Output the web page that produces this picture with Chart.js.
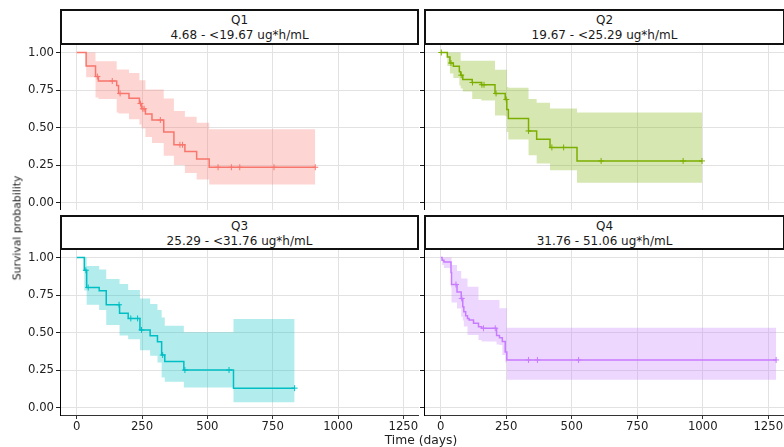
<!DOCTYPE html>
<html>
<head>
<meta charset="utf-8">
<script src="https://cdn.jsdelivr.net/npm/chart.js@4.4.1/dist/chart.umd.min.js"></script>
<style>
  body { margin: 0; background: #fff; }
  #fig { position: relative; width: 784px; height: 447px; overflow: hidden; font-family: 'DejaVu Sans', sans-serif; }
  .panel { position: absolute; }
  .strip {
    position: absolute; box-sizing: border-box; border: 2px solid #111; background: #fff;
    text-align: center; font-size: 12px; line-height: 15px; color: #1a1a1a; padding-top: 2px; white-space: nowrap;
  }
  .ytitle {
    position: absolute; left: 17px; top: 228px; transform: translate(-50%, -50%) rotate(-90deg);
    font-size: 10.8px; color: #222; white-space: nowrap;
  }
  .xtitle {
    position: absolute; left: 421px; top: 440px; transform: translate(-50%, -50%);
    font-size: 12.3px; color: #222; white-space: nowrap;
  }
</style>
</head>
<body>
<div id="fig">
  <div class="panel" style="left:0;top:45px"><canvas id="q1" width="419" height="165"></canvas></div>
  <div class="panel" style="left:418px;top:45px"><canvas id="q2" width="366" height="165"></canvas></div>
  <div class="panel" style="left:0;top:250px"><canvas id="q3" width="419" height="197"></canvas></div>
  <div class="panel" style="left:418px;top:250px"><canvas id="q4" width="366" height="197"></canvas></div>

  <div class="strip" style="left:60px;top:9px;width:359px;height:36px">Q1<br>4.68 - &lt;19.67 ug*h/mL</div>
  <div class="strip" style="left:424px;top:9px;width:361px;height:36px">Q2<br>19.67 - &lt;25.29 ug*h/mL</div>
  <div class="strip" style="left:60px;top:215px;width:359px;height:35px">Q3<br>25.29 - &lt;31.76 ug*h/mL</div>
  <div class="strip" style="left:424px;top:215px;width:361px;height:35px">Q4<br>31.76 - 51.06 ug*h/mL</div>

  <div class="ytitle">Survival probability</div>
  <div class="xtitle">Time (days)</div>
</div>

<script>
// axis ticks
const xTicks = [0, 250, 500, 750, 1000, 1250];
const yTicks = [0, 0.25, 0.5, 0.75, 1];
const yTickLabels = ['0.00', '0.25', '0.50', '0.75', '1.00'];

// Q1 - Kaplan-Meier steps with 95% band, censored times
const q1Time  = [0, 36, 72, 83, 153, 160, 200, 240, 248, 263, 288, 333, 372, 414, 459, 507, 913];
const q1Surv  = [1, 0.91, 0.84, 0.81, 0.78, 0.727, 0.695, 0.66, 0.625, 0.59, 0.55, 0.47, 0.385, 0.34, 0.29, 0.235, 0.235];
const q1Upper = [1, 1, 0.942, 0.942, 0.887, 0.887, 0.864, 0.815, 0.815, 0.753, 0.753, 0.693, 0.61, 0.571, 0.531, 0.489, 0.489];
const q1Lower = [1, 0.835, 0.70, 0.69, 0.60, 0.593, 0.555, 0.52, 0.493, 0.437, 0.397, 0.311, 0.25, 0.197, 0.153, 0.12, 0.12];
const q1CensTime = [79, 136, 166, 244, 253, 258, 320, 395, 405, 541, 592, 624, 755, 913];
const q1CensSurv = [0.84, 0.81, 0.727, 0.66, 0.625, 0.625, 0.55, 0.385, 0.385, 0.235, 0.235, 0.235, 0.235, 0.235];

// Q2
const q2Time  = [0, 25, 35, 48, 71, 76, 84, 120, 155, 207, 246, 252, 258, 335, 366, 417, 520, 997];
const q2Surv  = [1, 0.97, 0.93, 0.909, 0.871, 0.849, 0.82, 0.80, 0.785, 0.727, 0.687, 0.62, 0.56, 0.477, 0.422, 0.367, 0.277, 0.277];
const q2Upper = [1, 1, 1, 1, 1, 0.945, 0.945, 0.945, 0.945, 0.885, 0.885, 0.77, 0.765, 0.69, 0.665, 0.627, 0.60, 0.60];
const q2Lower = [1, 0.91, 0.86, 0.83, 0.78, 0.76, 0.74, 0.69, 0.68, 0.58, 0.575, 0.47, 0.42, 0.315, 0.26, 0.215, 0.131, 0.131];
const q2CensTime = [2, 39, 78, 121, 157, 165, 211, 250, 335, 424, 469, 612, 925, 997];
const q2CensSurv = [1, 0.93, 0.849, 0.80, 0.785, 0.785, 0.727, 0.687, 0.477, 0.367, 0.367, 0.277, 0.277, 0.277];

// Q3
const q3Time  = [0, 29, 38, 86, 113, 164, 197, 242, 281, 309, 325, 337, 410, 600, 834];
const q3Surv  = [1, 0.915, 0.80, 0.778, 0.685, 0.628, 0.594, 0.517, 0.479, 0.439, 0.35, 0.306, 0.25, 0.129, 0.129];
const q3Upper = [1, 1, 0.944, 0.92, 0.856, 0.823, 0.783, 0.727, 0.69, 0.65, 0.60, 0.545, 0.501, 0.59, 0.59];
const q3Lower = [1, 0.78, 0.685, 0.65, 0.55, 0.48, 0.455, 0.382, 0.345, 0.30, 0.20, 0.171, 0.133, 0.035, 0.035];
const q3CensTime = [35, 44, 162, 207, 233, 248, 329, 414, 583, 834];
const q3CensSurv = [0.915, 0.80, 0.685, 0.594, 0.594, 0.517, 0.35, 0.25, 0.25, 0.129];

// Q4
const q4Time  = [0, 5, 12, 39, 41, 62, 78, 84, 88, 95, 102, 108, 125, 144, 156, 213, 224, 235, 246, 252, 1280];
const q4Surv  = [1, 0.982, 0.97, 0.90, 0.82, 0.77, 0.727, 0.672, 0.638, 0.612, 0.594, 0.583, 0.561, 0.539, 0.528, 0.48, 0.465, 0.44, 0.37, 0.317, 0.317];
const q4Upper = [1, 1, 1, 1, 0.95, 0.91, 0.86, 0.86, 0.86, 0.86, 0.805, 0.805, 0.805, 0.716, 0.716, 0.716, 0.661, 0.661, 0.661, 0.532, 0.532];
const q4Lower = [1, 0.95, 0.93, 0.80, 0.70, 0.66, 0.605, 0.58, 0.54, 0.54, 0.483, 0.483, 0.483, 0.45, 0.44, 0.42, 0.417, 0.35, 0.30, 0.185, 0.185];
const q4CensTime = [58, 80, 163, 208, 335, 369, 526, 1280];
const q4CensSurv = [0.82, 0.727, 0.528, 0.528, 0.317, 0.317, 0.317, 0.317];

const xMin = -64, xMax = 1310;
const yMin = -0.05, yMax = 1.05;
const gridColor = '#e2e2e2';

Chart.defaults.font.family = "'DejaVu Sans', sans-serif";

const pts = (xs, ys) => xs.map((x, i) => ({ x: x, y: ys[i] }));

function buildPanel(id, color, rgb, time, surv, upper, lower, censTime, censSurv, showYLabels, showXAxis) {
    const ctx = document.getElementById(id).getContext('2d');
    new Chart(ctx, {
        type: 'line',
        data: {
            datasets: [
                { data: pts(time, surv), borderColor: color, borderWidth: 1.5, stepped: true, pointRadius: 0, fill: false },
                { data: pts(censTime, censSurv), showLine: false, pointStyle: 'cross', pointRadius: 3,
                  pointBorderWidth: 1, borderColor: color, backgroundColor: color },
                { data: pts(time, upper), borderColor: 'transparent', borderWidth: 0, stepped: true, pointRadius: 0, fill: false },
                { data: pts(time, lower), borderColor: 'transparent', borderWidth: 0, stepped: true, pointRadius: 0,
                  fill: '-1', backgroundColor: 'rgba(' + rgb + ',0.3)' }
            ]
        },
        options: {
            responsive: false,
            devicePixelRatio: 1,
            animation: false,
            events: [],
            layout: { padding: 0, autoPadding: false },
            plugins: { legend: { display: false }, tooltip: { enabled: false } },
            scales: {
                x: {
                    type: 'linear',
                    min: xMin,
                    max: xMax,
                    afterBuildTicks: s => { s.ticks = xTicks.map(v => ({ value: v })); },
                    afterFit: s => {
                        s.height = showXAxis ? 32 : 0;
                        s.paddingLeft = 0; s.paddingRight = 0;
                    },
                    grid: { color: gridColor, lineWidth: 1, drawTicks: showXAxis, tickLength: 4, tickColor: '#333' },
                    border: { display: showXAxis, color: '#333', width: 1 },
                    ticks: {
                        display: showXAxis, color: '#222', font: { size: 11.7 }, padding: 1,
                        maxRotation: 0, autoSkip: false, callback: v => String(v)
                    }
                },
                y: {
                    min: yMin,
                    max: yMax,
                    afterBuildTicks: s => { s.ticks = yTicks.map(v => ({ value: v })); },
                    afterFit: s => {
                        s.width = showYLabels ? 60 : 6;
                        s.paddingTop = 0; s.paddingBottom = 0;
                    },
                    grid: { color: gridColor, lineWidth: 1, drawTicks: true, tickLength: 4, tickColor: '#222' },
                    border: { display: true, color: '#000', width: 1 },
                    ticks: {
                        display: showYLabels, color: '#222', font: { size: 11.7 }, padding: 2,
                        callback: v => yTickLabels[yTicks.indexOf(v)]
                    }
                }
            }
        }
    });
}

buildPanel('q1', '#F8766D', '248,118,109', q1Time, q1Surv, q1Upper, q1Lower, q1CensTime, q1CensSurv, true, false);
buildPanel('q2', '#7CAE00', '124,174,0', q2Time, q2Surv, q2Upper, q2Lower, q2CensTime, q2CensSurv, false, false);
buildPanel('q3', '#00BFC4', '0,191,196', q3Time, q3Surv, q3Upper, q3Lower, q3CensTime, q3CensSurv, true, true);
buildPanel('q4', '#C77CFF', '199,124,255', q4Time, q4Surv, q4Upper, q4Lower, q4CensTime, q4CensSurv, false, true);
</script>
</body>
</html>
